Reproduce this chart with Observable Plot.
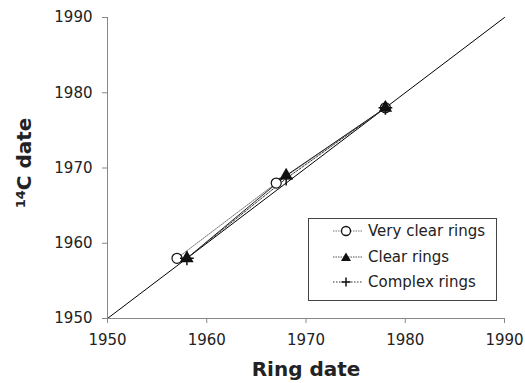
<!DOCTYPE html>
<html><head><meta charset="utf-8">
<script src="https://cdn.jsdelivr.net/npm/d3@7"></script>
<script src="https://cdn.jsdelivr.net/npm/@observablehq/plot@0.6"></script>
<style>
body{margin:0;background:#fff;font-family:"DejaVu Sans",Verdana,sans-serif;}
#wrap{position:relative;width:525px;height:383px;}
#legend{position:absolute;left:308px;top:218px;width:189px;height:83px;border:1px solid #444;background:#fff;box-sizing:border-box;}
.row{position:absolute;left:0;height:22px;display:flex;align-items:center;font-size:15px;color:#222;white-space:nowrap;}
.row svg{margin-left:24px;margin-right:5px;}
</style></head><body>
<div id="wrap"></div>
<script>
const seriesNames = ["Very clear rings", "Clear rings", "Complex rings"];
const ringDate = {
  "Very clear rings": [1957, 1967, 1978],
  "Clear rings": [1958, 1968, 1978],
  "Complex rings": [1958, 1968, 1978]
};
const c14Date = {
  "Very clear rings": [1958, 1968, 1978],
  "Clear rings": [1958, 1969, 1978],
  "Complex rings": [1958, 1968.6, 1978]
};
const ticks = [1950, 1960, 1970, 1980, 1990];
const diag = [1950, 1990];

const data = seriesNames.flatMap(s => ringDate[s].map((x, i) => ({series: s, x, y: c14Date[s][i]})));
const byS = s => data.filter(d => d.series === s);
const diagData = diag.map(v => ({x: v, y: v}));

const plot = Plot.plot({
  width: 525, height: 383,
  marginLeft: 107, marginRight: 21, marginTop: 17, marginBottom: 65,
  style: {fontFamily: "'DejaVu Sans', Verdana, sans-serif", fontSize: "15px", color: "#222", background: "#fff"},
  x: {domain: [1950, 1990], label: null},
  y: {domain: [1950, 1990], label: null},
  marks: [
    Plot.line(diagData, {x: "x", y: "y", stroke: "#000", strokeWidth: 1}),
    Plot.line(byS("Very clear rings"), {x: "x", y: "y", stroke: "#777", strokeWidth: 1, strokeDasharray: "1.5,1"}),
    Plot.line(byS("Clear rings"), {x: "x", y: "y", stroke: "#222", strokeWidth: 1}),
    Plot.line(byS("Complex rings"), {x: "x", y: "y", stroke: "#333", strokeWidth: 1, strokeDasharray: "2,1.5"}),
    Plot.dot(byS("Very clear rings"), {x: "x", y: "y", r: 5, stroke: "#111", strokeWidth: 1.2, fill: "#fff"}),
    Plot.dot(byS("Clear rings"), {x: "x", y: "y", symbol: "triangle", r: 5, fill: "#111", stroke: "none"}),
    Plot.dot(byS("Complex rings"), {x: "x", y: "y", symbol: "plus", r: 4.5, stroke: "#111", strokeWidth: 1.5}),
    Plot.ruleX([1950], {stroke: "#888"}),
    Plot.ruleY([1950], {stroke: "#888"}),
    Plot.axisX({ticks: ticks, tickFormat: d => String(d), label: null, stroke: "#888", tickSize: 5, tickPadding: 11, fontSize: 15, fill: "#222"}),
    Plot.axisY({ticks: ticks, tickFormat: d => String(d), label: null, stroke: "#888", tickSize: 5, tickPadding: 10, fontSize: 15, fill: "#222"})
  ]
});
const wrap = document.getElementById("wrap");
wrap.appendChild(plot);
const svg = d3.select(plot);
svg.append("text").attr("x", 306).attr("y", 376).attr("text-anchor", "middle")
  .attr("font-weight", "bold").attr("font-size", "20px").attr("fill", "#222").text("Ring date");
const yl = svg.append("text").attr("transform", "translate(31,163) rotate(-90)").attr("text-anchor", "middle")
  .attr("font-weight", "bold").attr("font-size", "20px").attr("fill", "#222");
yl.append("tspan").attr("font-size", "13px").attr("dy", "-6").text("14");
yl.append("tspan").attr("dy", "6").text("C date");

const legend = document.createElement("div");
legend.id = "legend";
const markers = {
  "Very clear rings": '<line x1="0" y1="8" x2="30" y2="8" stroke="#777" stroke-dasharray="1.5,1"/><circle cx="13" cy="8" r="4.5" fill="#fff" stroke="#111" stroke-width="1.3"/>',
  "Clear rings": '<line x1="0" y1="8" x2="30" y2="8" stroke="#555" stroke-dasharray="1.5,1"/><path d="M13,3.5 L18,12 L8,12 Z" fill="#111"/>',
  "Complex rings": '<line x1="0" y1="8" x2="30" y2="8" stroke="#333" stroke-dasharray="1.5,1.5"/><path d="M13,3.5 V12.5 M8.5,8 H17.5" stroke="#111" stroke-width="1.5"/>'
};
seriesNames.forEach((s, i) => {
  const r = document.createElement("div");
  r.className = "row";
  r.style.top = (1 + i * 25.5) + "px";
  r.innerHTML = `<svg width="30" height="16">${markers[s]}</svg><span>${s}</span>`;
  legend.appendChild(r);
});
wrap.appendChild(legend);
</script></body></html>
